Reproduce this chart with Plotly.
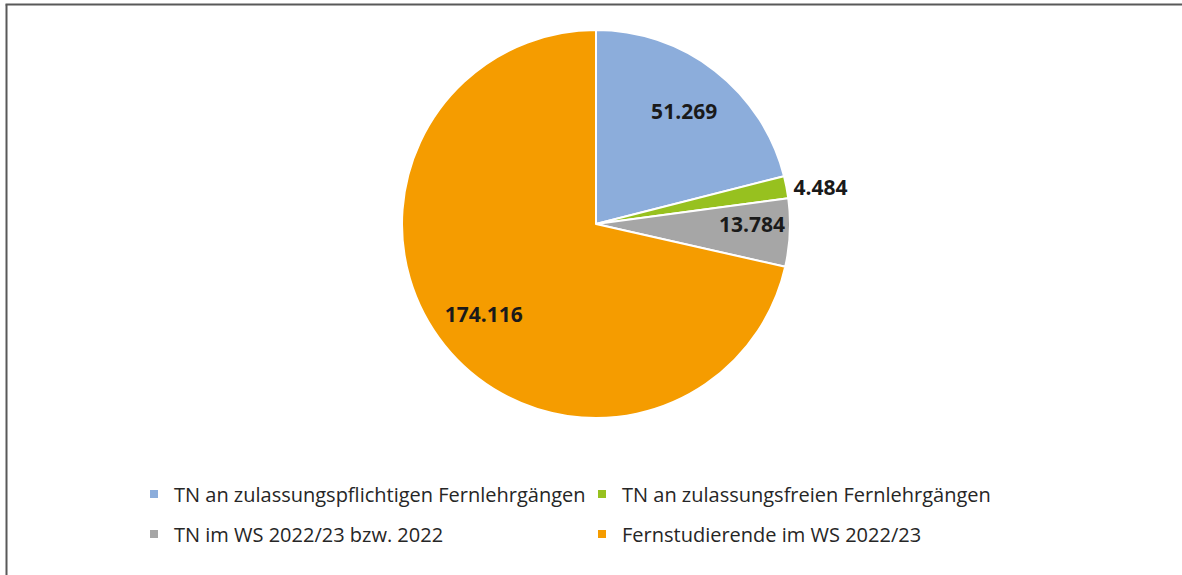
import plotly.graph_objects as go

labels = ["TN an zulassungspflichtigen Fernlehrgängen",
          "TN an zulassungsfreien Fernlehrgängen",
          "TN im WS 2022/23 bzw. 2022",
          "Fernstudierende im WS 2022/23"]
values = [51269, 4484, 13784, 174116]
value_labels = ["51.269", "4.484", "13.784", "174.116"]
colors = ["#8CADDB", "#97C11F", "#A6A6A6", "#F59C00"]
# which labels sit on the plain pie and which on the mid-ring overlay
main_text_positions = ["none", "outside", "inside", "none"]
ring_labelled = [True, False, False, True]
legend_rows = ["legend", "legend", "legend2", "legend2"]

W, H = 1182, 575
cx, cy, R = 596, 224, 194
domain = dict(x=[(cx - R) / W, (cx + R) / W], y=[1 - (cy + R) / H, 1 - (cy - R) / H])
label_font = dict(family="Open Sans", size=21, color="#1a1a1a", weight="bold")

fig = go.Figure()
fig.add_trace(go.Pie(
    labels=labels, values=values,
    text=[t if p != "none" else "" for t, p in zip(value_labels, main_text_positions)],
    textinfo="text", textposition=main_text_positions,
    insidetextorientation="horizontal",
    sort=False, direction="clockwise", rotation=0,
    marker=dict(colors=colors, line=dict(color="white", width=2)),
    textfont=label_font, insidetextfont=label_font, outsidetextfont=label_font,
    domain=domain, showlegend=False, hoverinfo="label+value",
))
# transparent ring overlay that places the big labels at mid radius
fig.add_trace(go.Pie(
    labels=labels, values=values,
    text=[t if f else "" for t, f in zip(value_labels, ring_labelled)],
    textinfo="text", textposition=["inside" if f else "none" for f in ring_labelled],
    insidetextorientation="horizontal", hole=0.48,
    sort=False, direction="clockwise", rotation=0,
    marker=dict(colors=["rgba(0,0,0,0)"] * len(values), line=dict(width=0)),
    insidetextfont=label_font, textfont=label_font,
    domain=domain, showlegend=False, hoverinfo="skip",
))

for lab, col, lg in zip(labels, colors, legend_rows):
    fig.add_trace(go.Scatter(
        x=[None], y=[None], mode="markers", name=lab,
        marker=dict(symbol="square", size=8, color=col),
        legend=lg, showlegend=True,
    ))

legend_common = dict(
    orientation="h", xanchor="left", yanchor="middle",
    font=dict(family="Open Sans", size=20, color="#262626"),
    entrywidthmode="pixels", entrywidth=403, bgcolor="rgba(0,0,0,0)",
    itemclick=False, itemdoubleclick=False,
)
frame = dict(type="line", xref="paper", yref="paper",
             line=dict(color="#595959", width=2))
fig.update_layout(
    width=W, height=H,
    margin=dict(l=0, r=0, t=0, b=0),
    paper_bgcolor="white", plot_bgcolor="white",
    xaxis=dict(visible=False), yaxis=dict(visible=False),
    legend=dict(x=134 / W, y=1 - 494 / H, **legend_common),
    legend2=dict(x=134 / W, y=1 - 534 / H, **legend_common),
    shapes=[dict(frame, x0=6.5 / W, x1=6.5 / W, y0=-0.05, y1=1 - 4.5 / H),
            dict(frame, x0=5.5 / W, x1=1.05, y0=1 - 4.5 / H, y1=1 - 4.5 / H)],
)

fig.write_html(
    "out.html", config={"displayModeBar": False},
    post_script=("document.documentElement.style.margin='0';"
                 "document.documentElement.style.overflow='hidden';"
                 "document.body.style.margin='0';"
                 "document.body.style.overflow='hidden';"
                 "document.body.style.background='white';"),
)
